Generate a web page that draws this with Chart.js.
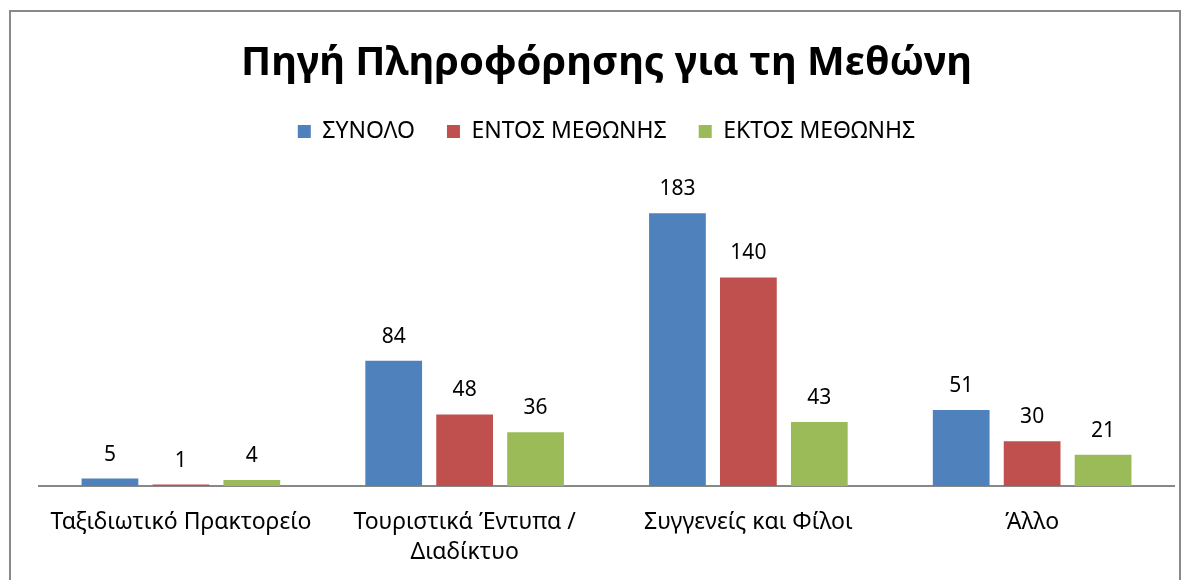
<!DOCTYPE html>
<html>
<head>
<meta charset="utf-8">
<script src="https://cdn.jsdelivr.net/npm/chart.js@4"></script>
<style>
  body { margin: 0; background: #fff; }
  #wrap { width: 1190px; height: 580px; }
</style>
</head>
<body>
<div id="wrap"><canvas id="myChart" width="1190" height="580"></canvas></div>
<script>
let categories = ["Ταξιδιωτικό Πρακτορείο", ["Τουριστικά Έντυπα /", "Διαδίκτυο"], "Συγγενείς και Φίλοι", "Άλλο"];
let seriesNames = ["ΣΥΝΟΛΟ", "ΕΝΤΟΣ ΜΕΘΩΝΗΣ", "ΕΚΤΟΣ ΜΕΘΩΝΗΣ"];
let synolo = [5, 84, 183, 51];
let entos = [1, 48, 140, 30];
let ektos = [4, 36, 43, 21];
let colors = ["#4F81BD", "#C0504D", "#9BBB59"];

let font = "'Noto Sans', 'DejaVu Sans', sans-serif";

// frame around the chart + white background
const framePlugin = {
  id: "frame",
  beforeDraw(chart) {
    let ctx = chart.ctx;
    ctx.save();
    ctx.fillStyle = "#fff";
    ctx.fillRect(0, 0, chart.width, chart.height);
    ctx.strokeStyle = "#898989";
    ctx.lineWidth = 2;
    ctx.strokeRect(10, 11, 1170, 620);
    ctx.restore();
  }
};

// value labels over the bars
const valueLabels = {
  id: "valueLabels",
  afterDatasetsDraw(chart) {
    let ctx = chart.ctx;
    ctx.save();
    ctx.font = "21px " + font;
    ctx.fillStyle = "#000";
    ctx.textAlign = "center";
    ctx.textBaseline = "alphabetic";
    chart.data.datasets.forEach((ds, i) => {
      chart.getDatasetMeta(i).data.forEach((bar, j) => {
        ctx.fillText(ds.data[j], bar.x, bar.y - 18);
      });
    });
    ctx.restore();
  }
};

// extra room under the legend
const legendSpace = {
  id: "legendSpace",
  beforeInit(chart) {
    let fit = chart.legend.fit;
    chart.legend.fit = function () {
      fit.bind(chart.legend)();
      this.height += 35;
    };
  }
};

new Chart("myChart", {
  type: "bar",
  data: {
    labels: categories,
    datasets: [
      { label: seriesNames[0], data: synolo, backgroundColor: colors[0] },
      { label: seriesNames[1], data: entos, backgroundColor: colors[1] },
      { label: seriesNames[2], data: ektos, backgroundColor: colors[2] },
    ],
  },
  options: {
    responsive: false,
    animation: false,
    layout: { padding: { top: 0, left: 39, right: 16, bottom: 0 } },
    datasets: { bar: { categoryPercentage: 0.75, barPercentage: 0.8 } },
    plugins: {
      title: {
        display: true,
        text: "Πηγή Πληροφόρησης για τη Μεθώνη",
        color: "#000",
        font: { family: font, size: 40, weight: "bold" },
        padding: { top: 40, bottom: 0 },
      },
      legend: {
        labels: {
          color: "#000",
          font: { family: font, size: 23 },
          boxWidth: 13,
          boxHeight: 13,
          padding: 32,
        },
      },
      tooltip: { enabled: false },
    },
    scales: {
      x: {
        grid: { display: false, drawTicks: false },
        border: { display: true, color: "#888", width: 2 },
        ticks: { color: "#000", font: { family: font, size: 23, lineHeight: 1.3 }, padding: 22, maxRotation: 0, autoSkip: false },
        afterFit(scale) { scale.height = 94; },
      },
      y: {
        display: false,
        min: 0,
        max: 200,
      },
    },
  },
  plugins: [framePlugin, valueLabels, legendSpace],
});
</script>
</body>
</html>
